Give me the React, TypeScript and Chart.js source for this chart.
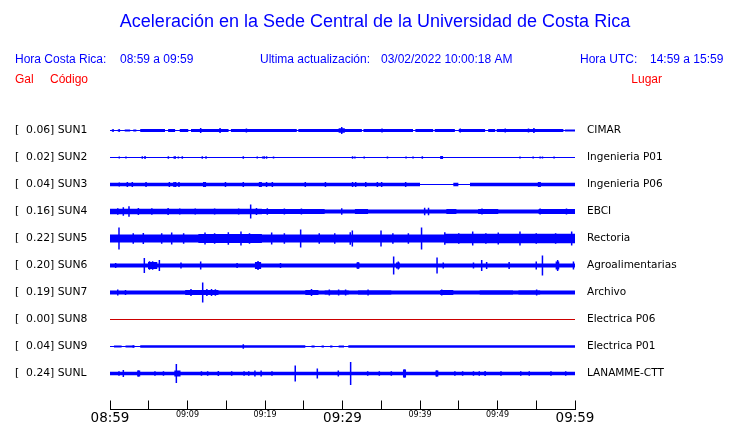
import React, { useEffect, useRef } from 'react';
import { Chart, registerables } from 'chart.js';

Chart.register(...registerables);

// ---- data -------------------------------------------------------------
const titleText = 'Aceleración en la Sede Central de la Universidad de Costa Rica';
const headerLocal = ['Hora Costa Rica:', '08:59 a 09:59'];
const headerUpdate = ['Ultima actualización:', '03/02/2022 10:00:18 AM'];
const headerUtc = ['Hora UTC:', '14:59 a 15:59'];

const codes = ['SUN1', 'SUN2', 'SUN3', 'SUN4', 'SUN5', 'SUN6', 'SUN7', 'SUN8', 'SUN9', 'SUNL'];
const peakGal = [0.06, 0.02, 0.04, 0.16, 0.22, 0.2, 0.19, 0.0, 0.04, 0.24];
const places = ['CIMAR', 'Ingenieria P01', 'Ingenieria P06', 'EBCI', 'Rectoria', 'Agroalimentarias', 'Archivo', 'Electrica P06', 'Electrica P01', 'LANAMME-CTT'];

const minuteTicks = [0, 5, 10, 15, 20, 25, 30, 35, 40, 45, 50, 55, 60];
const xTickLabels = ['08:59', '09:09', '09:19', '09:29', '09:39', '09:49', '09:59'];

// amplitude units: 27 units = spacing between two traces
// band segments: [start min, end min, half amplitude]
const sun1Band = [[0.2, 0.5, 0.9], [1.0, 1.3, 0.9], [1.9, 2.6, 0.9], [3.0, 3.4, 0.9], [3.9, 7.1, 1.4], [7.5, 8.4, 1.4], [9.0, 10.1, 1.4], [10.45, 15.3, 1.4], [15.6, 24.1, 1.4], [24.3, 29.5, 1.4], [29.5, 30.3, 2.3], [30.3, 32.5, 1.4], [32.7, 39.1, 1.4], [39.4, 41.7, 1.4], [41.9, 44.5, 1.4], [45.0, 48.4, 1.4], [48.8, 49.7, 1.4], [49.9, 58.5, 1.4], [58.7, 60, 1.0]];
const sun1Spikes = [[0.4, 1.3], [1.2, 1.3], [11.7, 2.6], [14.2, 2.4], [17.6, 1.9], [29.9, 3.5], [35.1, 1.9], [45.2, 1.9], [51.0, 1.9], [54.0, 2.1], [54.7, 2.4]];

const sun2Band = [[8.17, 8.52, 1.3], [39.0, 39.2, 1.0], [42.6, 43.0, 1.5]];
const sun2Spikes = [[1.2, 1.0], [2.06, 1.0], [4.17, 1.2], [4.52, 1.5], [7.53, 1.3], [8.82, 1.0], [9.33, 1.3], [11.91, 1.3], [12.39, 1.3], [17.2, 1.3], [19.0, 1.0], [19.7, 1.0], [19.9, 1.3], [20.2, 1.3], [21.1, 0.9], [31.3, 1.3], [31.6, 1.0], [32.8, 1.0], [35.8, 1.0], [38.2, 0.9], [40.3, 1.3], [52.9, 1.0], [54.6, 0.9], [55.5, 1.0], [55.8, 1.0], [57.3, 0.9]];

const sun3Band = [[0, 40.0, 1.7], [44.3, 44.95, 1.7], [46.45, 60, 1.7]];
const sun3Spikes = [[1.2, 2.0], [2.24, 2.4], [2.88, 2.4], [4.65, 2.4], [7.66, 2.4], [8.26, 2.4], [8.47, 2.4], [8.9, 2.4], [12.1, 2.4], [12.3, 2.4], [14.9, 2.4], [17.2, 2.4], [19.3, 2.4], [19.5, 2.4], [20.2, 2.4], [20.95, 2.4], [25.2, 2.4], [27.8, 2.4], [31.3, 2.4], [31.7, 2.4], [33.0, 2.4], [34.5, 2.4], [35.05, 2.4], [38.15, 2.4], [55.3, 2.4], [55.5, 2.4]];

const sun4Band = [[0, 19.6, 2.7], [19.6, 27.7, 2.4], [27.7, 31.6, 2.0], [31.6, 33.3, 2.4], [33.3, 43.4, 2.0], [43.4, 44.7, 2.5], [44.7, 47.5, 2.0], [47.5, 50.1, 2.5], [50.1, 55.3, 2.0], [55.3, 60, 2.5]];
const sun4Spikes = [[1.0, 3.3], [1.72, 4.3], [2.45, 5.3], [3.66, 3.5], [5.4, 3.3], [7.5, 3.5], [9.0, 3.0], [11.0, 3.0], [13.5, 3.0], [16.6, 3.0], [18.15, 7.0], [18.9, 3.5], [20.3, 3.3], [22.5, 3.0], [24.7, 3.0], [29.9, 3.3], [40.6, 3.8], [41.1, 3.8], [48.0, 3.0], [55.5, 3.0], [58.9, 3.0]];

const sun5Band = [[0, 11.4, 3.9], [11.4, 15.7, 4.4], [15.7, 19.6, 4.6], [19.6, 43.2, 4.0], [43.2, 60, 4.8]];
const sun5Spikes = [[1.16, 11.0], [3.0, 5.3], [4.3, 5.5], [6.67, 5.3], [7.96, 6.0], [9.5, 5.3], [12.26, 6.0], [13.5, 5.3], [15.27, 6.3], [16.9, 7.0], [18.0, 5.3], [20.86, 6.0], [22.5, 5.3], [24.6, 9.0], [27.0, 5.3], [29.0, 5.3], [31.0, 6.3], [31.27, 8.0], [34.97, 8.0], [36.5, 5.3], [38.5, 5.3], [40.2, 11.0], [43.2, 6.3], [45.0, 5.3], [46.8, 7.0], [48.5, 5.3], [50.1, 6.0], [52.9, 7.0], [55.0, 5.3], [57.5, 5.3], [59.57, 7.0]];

const sun6Band = [[0, 60, 2.0]];
const sun6Bursts = [[4.9, 6.1, 3.5], [18.7, 19.5, 3.5], [31.8, 32.2, 3.0], [36.9, 37.4, 3.0], [57.5, 58.0, 4.0]];
const sun6Spikes = [[0.73, 2.5], [4.43, 7.5], [5.1, 4.2], [5.5, 4.2], [6.37, 5.5], [9.16, 3.0], [11.7, 4.0], [16.4, 2.6], [19.1, 4.5], [22.0, 2.6], [32.0, 3.5], [36.6, 9.0], [37.2, 4.0], [42.2, 8.0], [43.0, 3.0], [46.9, 3.0], [47.96, 5.5], [48.6, 3.5], [51.5, 3.5], [55.0, 4.0], [55.8, 10.0], [57.76, 5.5], [59.8, 4.0]];

const sun7Band = [[0, 9.7, 1.9], [9.7, 14.0, 2.4], [14.0, 25.2, 1.9], [25.2, 26.9, 2.4], [26.9, 27.7, 1.9], [27.7, 30.8, 2.3], [30.8, 32.0, 1.9], [32.0, 36.3, 2.3], [36.3, 42.6, 1.9], [42.6, 44.3, 2.4], [44.3, 47.7, 1.9], [47.7, 52.0, 2.3], [52.0, 52.7, 1.9], [52.7, 55.5, 2.3], [55.5, 60, 1.9]];
const sun7Spikes = [[1.0, 3.0], [2.0, 2.6], [10.45, 3.5], [11.96, 10.0], [12.5, 3.5], [13.1, 3.5], [13.6, 3.2], [26.0, 3.5], [28.3, 3.0], [29.5, 3.0], [30.4, 3.0], [33.3, 3.0], [42.8, 3.0], [55.05, 3.0]];

const sun8Band: number[][] = [];
const sun8Spikes: number[][] = [];

const sun9Band = [[0.5, 1.5, 1.0], [2.0, 3.2, 1.0], [3.9, 25.2, 1.3], [26.0, 26.4, 1.0], [27.3, 27.6, 1.0], [28.4, 28.7, 0.9], [29.5, 30.2, 1.0], [30.75, 60, 1.3]];
const sun9Spikes = [[3.0, 1.3], [17.2, 2.3]];

const sunlBand = [[0, 60, 1.7]];
const sunlBursts = [[3.5, 3.9, 3.0], [8.3, 9.1, 3.0], [37.8, 38.2, 4.0], [42.0, 42.4, 3.0]];
const sunlSpikes = [[1.16, 2.3], [1.72, 3.5], [3.66, 3.0], [5.8, 2.2], [6.9, 2.2], [8.56, 9.5], [11.8, 2.2], [12.6, 2.2], [13.98, 2.5], [15.7, 2.2], [17.3, 2.3], [17.9, 2.3], [18.7, 3.0], [19.5, 3.0], [20.9, 2.3], [23.9, 8.0], [26.75, 5.0], [29.46, 3.0], [31.05, 11.5], [33.25, 2.2], [34.75, 2.3], [36.3, 2.3], [38.0, 4.0], [42.15, 3.0], [44.5, 2.2], [45.5, 2.3], [46.9, 2.3], [47.65, 2.3], [48.4, 2.5], [50.45, 2.3], [53.0, 2.2], [54.1, 2.2], [56.9, 2.2], [58.8, 2.2]];

const AMP_PER_ROW = 27;
const BLUE = '#0000ff';
const SILENT = '#cc0000';

const rows = [
  { band: sun1Band, bursts: [], spikes: sun1Spikes, color: BLUE },
  { band: sun2Band, bursts: [], spikes: sun2Spikes, color: BLUE },
  { band: sun3Band, bursts: [], spikes: sun3Spikes, color: BLUE },
  { band: sun4Band, bursts: [], spikes: sun4Spikes, color: BLUE },
  { band: sun5Band, bursts: [], spikes: sun5Spikes, color: BLUE },
  { band: sun6Band, bursts: sun6Bursts, spikes: sun6Spikes, color: BLUE },
  { band: sun7Band, bursts: [], spikes: sun7Spikes, color: BLUE },
  { band: sun8Band, bursts: [], spikes: sun8Spikes, color: SILENT },
  { band: sun9Band, bursts: [], spikes: sun9Spikes, color: BLUE },
  { band: sunlBand, bursts: sunlBursts, spikes: sunlSpikes, color: BLUE },
];

const levelOf = (i: number) => rows.length - i;
const TRANSPARENT = 'rgba(0,0,0,0)';

function envelope(segs: number[][], base: number, sign: number) {
  const pts: { x: number; y: number }[] = [];
  segs.forEach(([t0, t1, a]) => {
    const y = base + sign * (a / AMP_PER_ROW);
    pts.push({ x: t0, y: base }, { x: t0, y }, { x: t1, y }, { x: t1, y: base });
  });
  return pts;
}

function buildDatasets() {
  const ds: any[] = [];
  rows.forEach((r, i) => {
    const base = levelOf(i);
    const common = { pointRadius: 0, borderWidth: 0, borderColor: TRANSPARENT, backgroundColor: r.color, tension: 0 };
    ds.push({ ...common, data: [{ x: 0, y: base }, { x: 60, y: base }], borderColor: r.color, borderWidth: 1, fill: false });
    [r.band, r.bursts].forEach((segs) => {
      if (!segs.length) return;
      ds.push({ ...common, data: envelope(segs, base, 1), fill: '+1' });
      ds.push({ ...common, data: envelope(segs, base, -1), fill: false });
    });
    if (r.spikes.length) {
      const pts: any[] = [];
      r.spikes.forEach(([t, a]) => {
        const h = a / AMP_PER_ROW;
        pts.push({ x: t, y: base - h }, { x: t, y: base + h }, { x: t, y: null });
      });
      ds.push({ ...common, data: pts, borderColor: r.color, borderWidth: 1.5, fill: false, spanGaps: false });
    }
  });
  return ds;
}

const headerPlugin = {
  id: 'headerTexts',
  afterDraw(chart: any) {
    const ctx = chart.ctx;
    ctx.save();
    ctx.textBaseline = 'middle';
    ctx.fillStyle = BLUE;
    ctx.font = '18px "Liberation Sans", Arial, sans-serif';
    ctx.textAlign = 'center';
    ctx.fillText(titleText, 375, 22);
    ctx.textAlign = 'left';
    ctx.font = '12px "Liberation Sans", Arial, sans-serif';
    ctx.fillText(headerLocal[0], 15, 60);
    ctx.fillText(headerLocal[1], 120, 60);
    ctx.fillText(headerUpdate[0], 260, 60);
    ctx.fillText(headerUpdate[1], 381, 60);
    ctx.fillText(headerUtc[0], 580, 60);
    ctx.fillText(headerUtc[1], 650, 60);
    ctx.fillStyle = '#ff0000';
    ctx.fillText('Gal', 15, 80);
    ctx.fillText('Código', 50, 80);
    ctx.textAlign = 'right';
    ctx.fillText('Lugar', 662, 80);
    ctx.restore();
  },
};

const LABEL_FONT = 'DejaVu Sans';

export default function App() {
  const ref = useRef<HTMLCanvasElement | null>(null);
  useEffect(() => {
    document.body.style.margin = '0';
    const canvas = ref.current;
    if (!canvas) return;
    const levels = rows.map((_, i) => levelOf(i));
    const yTicks = (s: any) => {
      s.ticks = levels.map((v) => ({ value: v }));
    };
    const chart = new Chart(canvas, {
      type: 'line',
      data: { datasets: buildDatasets() },
      plugins: [headerPlugin],
      options: {
        responsive: false,
        animation: false,
        devicePixelRatio: 1,
        layout: { padding: { left: 15, top: 103.5, right: 0, bottom: 0 } },
        plugins: { legend: { display: false }, tooltip: { enabled: false }, title: { display: false } },
        scales: {
          x: {
            type: 'linear',
            min: 0,
            max: 60,
            position: 'bottom',
            afterBuildTicks: (s: any) => {
              s.ticks = minuteTicks.map((v) => ({ value: v }));
            },
            grid: { display: true, drawOnChartArea: false, drawTicks: true, tickLength: -9, color: '#000', lineWidth: 1 },
            border: { display: true, color: '#000', width: 1 },
            ticks: {
              autoSkip: false,
              maxRotation: 0,
              padding: 9.4,
              color: '#000',
              callback: (v: any) => (Number(v) % 10 === 0 ? xTickLabels[Number(v) / 10] : ''),
              font: (c: any) =>
                c.tick && c.tick.value % 30 === 0 ? { family: LABEL_FONT, size: 13.5 } : { family: LABEL_FONT, size: 8 },
            },
            afterFit: (s: any) => {
              s.height = 13.5;
              s.paddingLeft = 0;
              s.paddingRight = 0;
            },
          },
          y: {
            type: 'linear',
            min: -1 / 3,
            max: 11,
            position: 'left',
            afterBuildTicks: yTicks,
            grid: { display: false },
            border: { display: false },
            ticks: {
              autoSkip: false,
              crossAlign: 'far',
              color: '#000',
              font: { family: LABEL_FONT, size: 10.8 },
              callback: (v: any) => {
                const i = rows.length - Number(v);
                return `[  ${peakGal[i].toFixed(2)}] ${codes[i]}`;
              },
            },
            afterFit: (s: any) => {
              s.width = 95;
              s.paddingTop = 0;
              s.paddingBottom = 0;
            },
          },
          y2: {
            type: 'linear',
            min: -1 / 3,
            max: 11,
            position: 'right',
            afterBuildTicks: yTicks,
            grid: { display: false },
            border: { display: false },
            ticks: {
              autoSkip: false,
              crossAlign: 'near',
              padding: 4,
              color: '#000',
              font: { family: LABEL_FONT, size: 10.5 },
              callback: (v: any) => places[rows.length - Number(v)],
            },
            afterFit: (s: any) => {
              s.width = 165;
              s.paddingTop = 0;
              s.paddingBottom = 0;
            },
          },
        },
      } as any,
    });
    return () => chart.destroy();
  }, []);
  return (
    <div style={{ width: 740, height: 423 }}>
      <canvas ref={ref} width={740} height={423} style={{ display: 'block' }} />
    </div>
  );
}
